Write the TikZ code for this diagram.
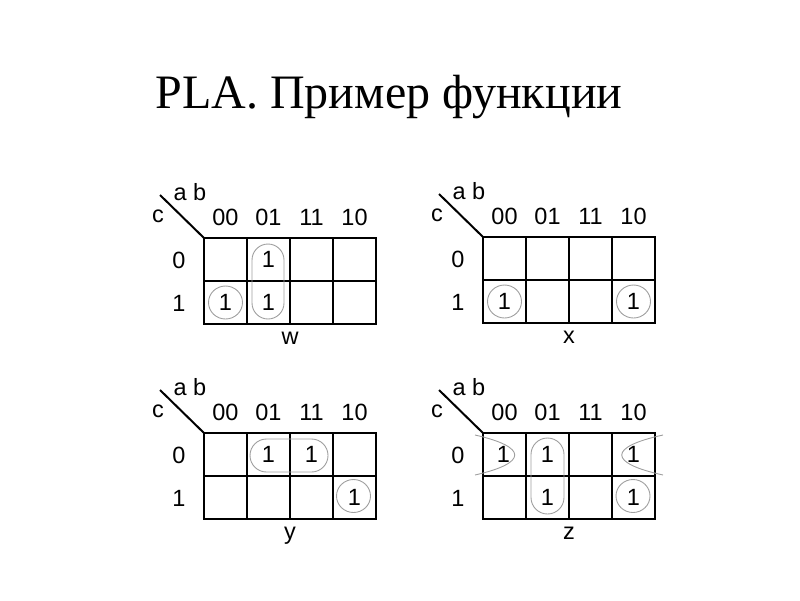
\documentclass[tikz,border=0pt]{standalone}
\usepackage{fontspec}
\setmainfont{Liberation Serif}
\newfontfamily\arialfont{Liberation Sans}

\begin{document}
\begin{tikzpicture}[x=1pt,y=-1pt]
        \tikzset{
            kline/.style={black, line width=2pt},
            grp/.style={gray!75, line width=0.9pt},
            lbl/.style={
                font=\arialfont\fontsize{23.5}{26}\selectfont,
                inner sep=0pt,
                anchor=base
            }
        }
        \useasboundingbox (0,0) rectangle (800,600);

        \node[font=\fontsize{48}{52}\selectfont, anchor=base] (title) at (389,108) {PLA. Пример функции};

        %карта w
        \begin{scope}[shift={(204,238)}, name prefix=w-]
            \draw[kline] (0,0) rectangle (172,86);
            \draw[kline] (43,0) -- (43,86);
            \draw[kline] (86,0) -- (86,86);
            \draw[kline] (129,0) -- (129,86);
            \draw[kline] (0,43) -- (172,43);
            \coordinate (corner) at (0,0);
            \coordinate (tail) at (-44,-43);
            \draw[kline] (tail) -- (corner);

            \node[lbl] (ab) at (-14,-38) {a b};
            \node[lbl] (c) at (-46,-15.5) {c};
            \node[lbl] (h00) at (21.5,-13) {00};
            \node[lbl] (h01) at (64.5,-13) {01};
            \node[lbl] (h11) at (107.5,-13) {11};
            \node[lbl] (h10) at (150.5,-13) {10};
            \node[lbl] (r0) at (-25,30) {0};
            \node[lbl] (r1) at (-25,73) {1};
            \node[lbl] (name) at (86,106) {w};

            \node[lbl] (one01a) at (64.5,29.8) {1};
            \node[lbl] (one00b) at (21.5,72.8) {1};
            \node[lbl] (one01b) at (64.5,72.8) {1};

            \draw[grp, rounded corners=16pt] (48,6) rectangle (80,81);
            \draw[grp] (21.5,64.5) ellipse [x radius=17pt, y radius=16.5pt];
        \end{scope}

        %карта x
        \begin{scope}[shift={(483,237)}, name prefix=x-]
            \draw[kline] (0,0) rectangle (172,86);
            \draw[kline] (43,0) -- (43,86);
            \draw[kline] (86,0) -- (86,86);
            \draw[kline] (129,0) -- (129,86);
            \draw[kline] (0,43) -- (172,43);
            \coordinate (corner) at (0,0);
            \coordinate (tail) at (-44,-43);
            \draw[kline] (tail) -- (corner);

            \node[lbl] (ab) at (-14,-38) {a b};
            \node[lbl] (c) at (-46,-15.5) {c};
            \node[lbl] (h00) at (21.5,-13) {00};
            \node[lbl] (h01) at (64.5,-13) {01};
            \node[lbl] (h11) at (107.5,-13) {11};
            \node[lbl] (h10) at (150.5,-13) {10};
            \node[lbl] (r0) at (-25,30) {0};
            \node[lbl] (r1) at (-25,73) {1};
            \node[lbl] (name) at (86,106) {x};

            \node[lbl] (one00b) at (21.5,72.8) {1};
            \node[lbl] (one10b) at (150.5,72.8) {1};

            \draw[grp] (21.5,64.5) ellipse [x radius=17pt, y radius=16.5pt];
            \draw[grp] (150.5,64.5) ellipse [x radius=17pt, y radius=16.5pt];
        \end{scope}

        %карта y
        \begin{scope}[shift={(204,433)}, name prefix=y-]
            \draw[kline] (0,0) rectangle (172,86);
            \draw[kline] (43,0) -- (43,86);
            \draw[kline] (86,0) -- (86,86);
            \draw[kline] (129,0) -- (129,86);
            \draw[kline] (0,43) -- (172,43);
            \coordinate (corner) at (0,0);
            \coordinate (tail) at (-44,-43);
            \draw[kline] (tail) -- (corner);

            \node[lbl] (ab) at (-14,-38) {a b};
            \node[lbl] (c) at (-46,-15.5) {c};
            \node[lbl] (h00) at (21.5,-13) {00};
            \node[lbl] (h01) at (64.5,-13) {01};
            \node[lbl] (h11) at (107.5,-13) {11};
            \node[lbl] (h10) at (150.5,-13) {10};
            \node[lbl] (r0) at (-25,30) {0};
            \node[lbl] (r1) at (-25,73) {1};
            \node[lbl] (name) at (86,106) {y};

            \node[lbl] (one01a) at (64.5,29.8) {1};
            \node[lbl] (one11a) at (107.5,29.8) {1};
            \node[lbl] (one10b) at (150.5,72.8) {1};

            \draw[grp, rounded corners=16.5pt] (46,6) rectangle (124,39);
            \draw[grp] (149.5,63) ellipse [x radius=17pt, y radius=16.5pt];
        \end{scope}

        %карта z
        \begin{scope}[shift={(483,433)}, name prefix=z-]
            \draw[kline] (0,0) rectangle (172,86);
            \draw[kline] (43,0) -- (43,86);
            \draw[kline] (86,0) -- (86,86);
            \draw[kline] (129,0) -- (129,86);
            \draw[kline] (0,43) -- (172,43);
            \coordinate (corner) at (0,0);
            \coordinate (tail) at (-44,-43);
            \draw[kline] (tail) -- (corner);

            \node[lbl] (ab) at (-14,-38) {a b};
            \node[lbl] (c) at (-46,-15.5) {c};
            \node[lbl] (h00) at (21.5,-13) {00};
            \node[lbl] (h01) at (64.5,-13) {01};
            \node[lbl] (h11) at (107.5,-13) {11};
            \node[lbl] (h10) at (150.5,-13) {10};
            \node[lbl] (r0) at (-25,30) {0};
            \node[lbl] (r1) at (-25,73) {1};
            \node[lbl] (name) at (86,106) {z};

            \node[lbl] (one00a) at (20.5,29.8) {1};
            \node[lbl] (one01a) at (64.5,29.8) {1};
            \node[lbl] (one10a) at (150.5,29.8) {1};
            \node[lbl] (one01b) at (64.5,72.8) {1};
            \node[lbl] (one10b) at (150.5,72.8) {1};

            \draw[grp] (-8,2) .. controls (45,14) and (45,30) .. (-8,42);
            \draw[grp] (180,2) .. controls (125,14) and (125,30) .. (180,42);
            \draw[grp, rounded corners=16.5pt] (48,5) rectangle (81,81);
            \draw[grp] (150,63) ellipse [x radius=17pt, y radius=16.5pt];
        \end{scope}

    \end{tikzpicture}
\end{document}
